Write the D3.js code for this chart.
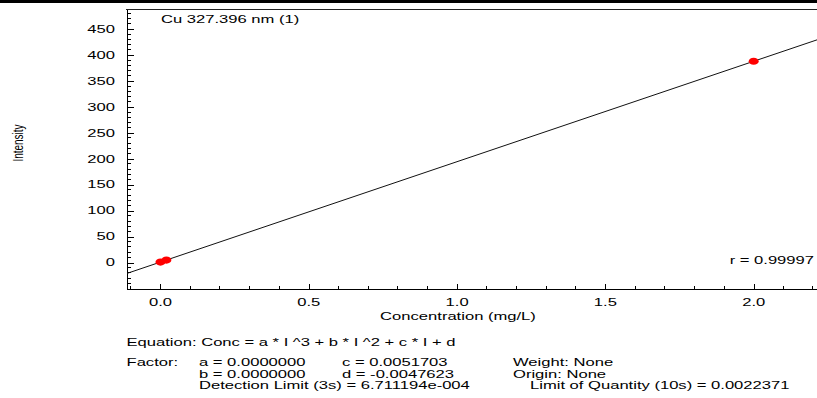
<!DOCTYPE html>
<html><head><meta charset="utf-8">
<script src="https://cdn.jsdelivr.net/npm/d3@7"></script>
<style>
html,body{margin:0;padding:0;background:#fff;}
text{font-family:"Liberation Sans",Arial,sans-serif;fill:#000;}
</style></head>
<body><svg id="c" width="817" height="398"></svg>
<script>
// ---- data ----
const concentration = [0, 0.02, 2.0];
const intensity = [0.9, 4.8, 387.8];
const fitC = 0.0051703;      // Conc = c*I + d
const fitD = -0.0047623;
const yTickValues = [0, 50, 100, 150, 200, 250, 300, 350, 400, 450];
const xTickValues = [0.0, 0.5, 1.0, 1.5, 2.0];
const xTickLabels = ["0.0", "0.5", "1.0", "1.5", "2.0"];
const titleText = "Cu 327.396 nm (1)";
const rText = "r = 0.99997";
const infoLines = [
  ["Equation: Conc = a * I ^3 + b * I ^2 + c * I + d", 126.5, 346],
  ["Factor:", 126.5, 366],
  ["a = 0.0000000", 199, 366],
  ["c = 0.0051703", 342, 366],
  ["Weight: None", 513, 366],
  ["b = 0.0000000", 199, 377.5],
  ["d = -0.0047623", 342, 377.5],
  ["Origin:  None", 513, 377.5],
  ["Detection Limit (3s) = 6.711194e-004", 199, 389],
  ["Limit of Quantity (10s) = 0.0022371", 530, 389]
];

// ---- drawing ----
const SX = 1.58, FS = "10.5px";
const svg = d3.select("#c");
const x = d3.scaleLinear().domain([-0.1145, 2.2135]).range([126.5, 817]);
const y = d3.scaleLinear().domain([-50, 487.5]).range([288.5, 9.5]);

function txt(s, tx, ty, anchor, size) {
  svg.append("text")
    .attr("transform", `translate(${tx},${ty}) scale(${SX},1)`)
    .attr("text-anchor", anchor || "start")
    .style("font-size", size || FS)
    .text(s);
}

// top rules
svg.append("rect").attr("x", 0).attr("y", 0).attr("width", 817).attr("height", 3).attr("fill", "#000");
svg.append("line").attr("x1", 126).attr("x2", 817).attr("y1", 9.5).attr("y2", 9.5).attr("stroke", "#222").attr("stroke-width", 1);

// y axis
const yMinor = d3.range(-50, 481, 10).filter(v => v % 50 !== 0);
const yAxis = d3.axisLeft(y).tickValues(yTickValues.concat([-50])).tickSizeInner(-7).tickSizeOuter(0).tickFormat("");
const gy = svg.append("g").attr("transform", "translate(126.5,0)").call(yAxis);
gy.append("g").selectAll("line").data(yMinor).join("line")
  .attr("x1", 0).attr("x2", 4).attr("y1", d => y(d)).attr("y2", d => y(d))
  .attr("stroke", "#000").attr("shape-rendering", "crispEdges");
gy.selectAll("path,line").attr("stroke", "#000").attr("shape-rendering", "crispEdges");

// x axis
const xMinor = d3.range(-1, 23, 1).map(v => v / 10).filter(v => Math.round(v * 10) % 5 !== 0);
const xAxis = d3.axisBottom(x).tickValues(xTickValues).tickSizeInner(-5).tickSizeOuter(0).tickFormat("");
const gx = svg.append("g").attr("transform", "translate(0,288.5)").call(xAxis);
gx.append("g").selectAll("line").data(xMinor).join("line")
  .attr("x1", d => x(d)).attr("x2", d => x(d)).attr("y1", 0).attr("y2", -3)
  .attr("stroke", "#000").attr("shape-rendering", "crispEdges");
gx.selectAll("path,line").attr("stroke", "#000").attr("shape-rendering", "crispEdges");

// tick labels
yTickValues.forEach(v => txt(String(v), 115, y(v) + 3.8, "end"));
xTickValues.forEach((v, i) => txt(xTickLabels[i], x(v), 305.5, "middle"));

// axis titles
txt("Concentration (mg/L)", 458, 319.5, "middle");
svg.append("text")
  .attr("transform", `translate(23,143) scale(1.5,1) rotate(-90)`)
  .attr("text-anchor", "middle").style("font-size", "10px")
  .text("Intensity");

// regression line
svg.append("defs").append("clipPath").attr("id", "clip").append("rect")
  .attr("x", 127).attr("y", 10).attr("width", 690).attr("height", 278);
const xd = x.domain();
const fitLine = xd.map(cc => [cc, (cc - fitD) / fitC]);
svg.append("path").attr("clip-path", "url(#clip)")
  .attr("d", d3.line().x(d => x(d[0])).y(d => y(d[1]))(fitLine))
  .attr("fill", "none").attr("stroke", "#111").attr("stroke-width", 1);

// points
svg.append("g").selectAll("ellipse").data(concentration).join("ellipse")
  .attr("cx", d => x(d)).attr("cy", (d, i) => y(intensity[i]))
  .attr("rx", 5).attr("ry", 3.6).attr("fill", "#ff0000");

// texts
txt(titleText, 161, 22.5, "start");
txt(rText, 814, 264, "end");
infoLines.forEach(l => txt(l[0], l[1], l[2], "start"));
</script></body></html>
